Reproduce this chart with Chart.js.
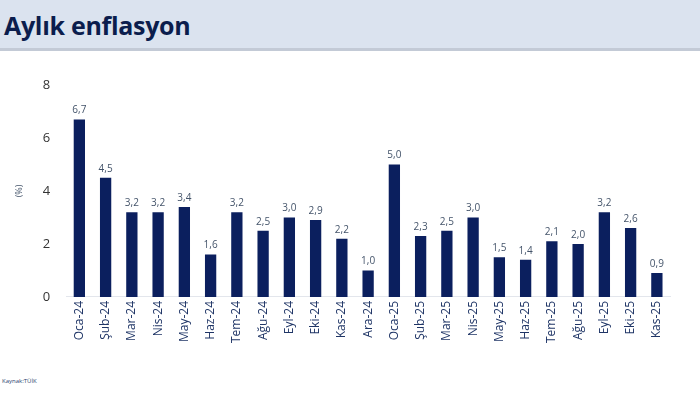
<!DOCTYPE html>
<html>
<head>
<meta charset="utf-8">
<script src="https://cdn.jsdelivr.net/npm/chart.js@4"></script>
<style>
  html, body { margin: 0; padding: 0; background: #fff; width: 700px; height: 393px; overflow: hidden; font-family: "Open Sans", sans-serif; }
  #header { position: absolute; left: 0; top: 0; width: 700px; height: 48px; background: #dbe3ef; border-bottom: 3px solid #c3cad6; }
  #header h1 { margin: 0; position: absolute; left: 4px; top: 8px; font-size: 25px; font-weight: bold; color: #0b1d4d; letter-spacing: -0.3px; }
  #wrap { position: absolute; left: 0; top: 51px; width: 700px; height: 320px; }
  #source { position: absolute; left: 2px; top: 377px; font-size: 6px; color: #2a3f6e; }
</style>
</head>
<body>
<div id="header"><h1>Aylık enflasyon</h1></div>
<div id="wrap"><canvas id="chart"></canvas></div>
<div id="source">Kaynak:TÜİK</div>
<script>
// Monthly CPI change (%)
const months = ["Oca-24", "Şub-24", "Mar-24", "Nis-24", "May-24", "Haz-24", "Tem-24", "Ağu-24", "Eyl-24", "Eki-24", "Kas-24", "Ara-24",
  "Oca-25", "Şub-25", "Mar-25", "Nis-25", "May-25", "Haz-25", "Tem-25", "Ağu-25", "Eyl-25", "Eki-25", "Kas-25"];
const monthlyInflation = [6.7, 4.5, 3.2, 3.2, 3.4, 1.6, 3.2, 2.5, 3.0, 2.9, 2.2, 1.0,
  5.0, 2.3, 2.5, 3.0, 1.5, 1.4, 2.1, 2.0, 3.2, 2.6, 0.9];
const yTicks = [0, 2, 4, 6, 8];

const barColor = "#0b1f5e";

// draws value labels above bars (comma decimal)
const valueLabels = {
  id: "valueLabels",
  afterDatasetsDraw(chart) {
    const ctx = chart.ctx;
    const meta = chart.getDatasetMeta(0);
    ctx.save();
    ctx.font = "10px 'Open Sans', sans-serif";
    ctx.fillStyle = "#44546a";
    ctx.textAlign = "center";
    ctx.textBaseline = "bottom";
    meta.data.forEach((bar, i) => {
      const txt = monthlyInflation[i].toFixed(1).replace(".", ",");
      ctx.fillText(txt, bar.x, bar.y - 4);
    });
    ctx.restore();
  },
};

new Chart(document.getElementById("chart"), {
  type: "bar",
  data: {
    labels: months,
    datasets: [{
      data: monthlyInflation,
      backgroundColor: barColor,
      categoryPercentage: 1,
      barPercentage: 0.43,
    }],
  },
  options: {
    responsive: true,
    maintainAspectRatio: false,
    animation: false,
    layout: { padding: { left: 4, right: 30, top: 34, bottom: 24 } },
    plugins: { legend: { display: false }, tooltip: { enabled: false } },
    scales: {
      x: {
        grid: { display: false, drawTicks: false },
        border: { color: "#e3e6ec", width: 1 },
        ticks: {
          minRotation: 90, maxRotation: 90, padding: 4,
          color: "#1f3566",
          font: { family: "'Open Sans', sans-serif", size: 12 },
        },
      },
      y: {
        min: 0, max: 8,
        afterBuildTicks: (axis) => { axis.ticks = yTicks.map((v) => ({ value: v })); },
        grid: { display: false, drawTicks: false },
        border: { display: false },
        title: { display: true, text: "(%)", color: "#44546a", font: { size: 9, family: "'Open Sans', sans-serif" }, padding: { top: 10, bottom: 2 } },
        ticks: {
          padding: 16,
          color: "#333",
          font: { family: "'Open Sans', sans-serif", size: 13 },
        },
      },
    },
  },
  plugins: [valueLabels],
});
</script>
</body>
</html>
